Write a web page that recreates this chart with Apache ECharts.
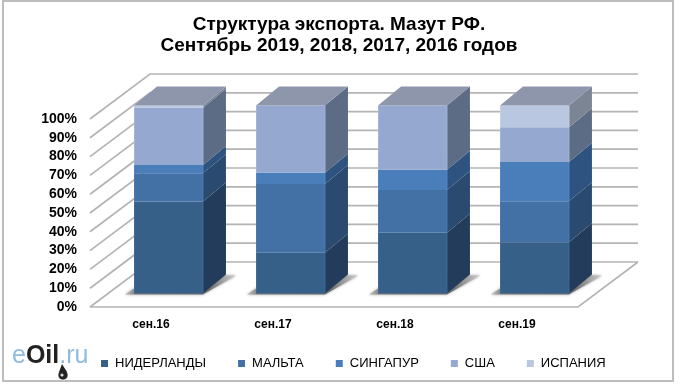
<!DOCTYPE html>
<html><head><meta charset="utf-8">
<style>html,body{margin:0;padding:0;background:#fff}#c{width:680px;height:385px}</style>
<script src="https://cdn.jsdelivr.net/npm/echarts@6/dist/echarts.min.js"></script>
</head><body><div id="c"></div>
<script>
const categories = ['сен.16','сен.17','сен.18','сен.19'];
const niderlandy = [48.9,21.7,32.3,27.2];
const malta      = [15.1,36.6,22.7,21.9];
const singapur   = [4.4,5.9,10.8,20.9];
const ssha       = [30.4,35.8,34.2,18.4];
const ispaniya   = [1.2,0,0,11.6];
const yTicks = [0,10,20,30,40,50,60,70,80,90,100];

const names = ['НИДЕРЛАНДЫ','МАЛЬТА','СИНГАПУР','США','ИСПАНИЯ'];
const values = [niderlandy,malta,singapur,ssha,ispaniya];
const frontCol = ['#376089','#4371A6','#4A7EBB','#95A9D0','#BAC7E1'];
const sideCol  = ['#243C5B','#2B4A70','#2F5380','#5D6C85','#7C8594'];
const edgeCol  = ['#3F6A98','#4A79B0','#5587C4','#A3B5D8','#C6D1E7'];
const topCol = '#8D96AB';

const W_DX=60, W_DY=-45, BAR_X=17.5, BAR_Y=-13.5, BAR_W=.565, S_DX=23, S_DY=-19;

function wallItem(params, api){
  const cs = params.coordSys, y = api.coord([0, api.value(0)])[1];
  const x0 = cs.x, x1 = cs.x+cs.width, isZero = api.value(0)===0;
  const lines = [[[x0,y],[x0+W_DX,y+W_DY],[x1+W_DX,y+W_DY]]];
  if(isZero) lines.push([[x0,y],[x1,y],[x1+W_DX,y+W_DY]]);
  return {type:'group',children:lines.map(pts=>({type:'polyline',shape:{points:pts},silent:true,
    style:{fill:null,stroke:'#b4b4b4',lineWidth:1.7}}))};
}
function shadowItem(params, api){
  const c = api.coord([api.value(0),0]), w = api.size([1,0])[0]*BAR_W;
  const l = c[0]+BAR_X-w/2, r = l+w, y = c[1]+BAR_Y+1;
  return {type:'polygon',silent:true,shape:{points:[[l-9,y],[r,y],[r+33,y-19],[l+20,y-19]]},
    style:{shadowBlur:3,shadowColor:'rgba(120,120,120,.7)',fill:new echarts.graphic.LinearGradient(0,0,1,0,[{offset:0,color:'#c4c4c4'},{offset:.1,color:'#808080'},{offset:.75,color:'#6c6c6c'},{offset:1,color:'#d0d0d0'}])}};
}
function barItem(idx){
  return function(params, api){
    const a = api.coord([api.value(0),api.value(1)]), b = api.coord([api.value(0),api.value(2)]);
    if(api.value(2)-api.value(1)<=0) return {type:'group',children:[]};
    const w = api.size([1,0])[0]*BAR_W, l = a[0]+BAR_X-w/2, r = l+w, y0 = a[1]+BAR_Y, y1 = b[1]+BAR_Y;
    const ch = [
      {type:'rect',shape:{x:l,y:y1,width:w,height:y0-y1},style:{fill:frontCol[idx],stroke:null}},
      {type:'polygon',shape:{points:[[r,y0],[r+S_DX,y0+S_DY],[r+S_DX,y1+S_DY],[r,y1]]},style:{fill:sideCol[idx]}},
      {type:'line',shape:{x1:l+.5,y1:y1,x2:l+.5,y2:y0},style:{stroke:edgeCol[idx],lineWidth:1}},
      {type:'line',shape:{x1:r,y1:y1,x2:r,y2:y0},style:{stroke:edgeCol[idx],lineWidth:1}}
    ];
    if(api.value(2)>=99.9) ch.push({type:'polygon',shape:{points:[[l,y1],[l+S_DX,y1+S_DY],[r+S_DX,y1+S_DY],[r,y1]]},style:{fill:topCol}});
    return {type:'group',silent:true,children:ch};
  };
}
const series = [
  {type:'custom',name:'wall',z:1,silent:true,coordinateSystem:'cartesian2d',data:yTicks.map(v=>[v]),encode:{y:0},renderItem:wallItem,clip:false},
  {type:'custom',name:'shadow',z:2,silent:true,data:categories.map((c,i)=>[i]),encode:{x:0},renderItem:shadowItem,clip:false}
];
const base = categories.map(()=>0);
names.forEach((n,si)=>{
  const d = categories.map((c,i)=>{const s=base[i]; base[i]+=values[si][i]; return [i,s,base[i]];});
  series.push({type:'custom',name:n,z:3+si,silent:true,itemStyle:{color:frontCol[si]},data:d,encode:{x:0,y:[1,2]},renderItem:barItem(si),clip:false});
});

const chart = echarts.init(document.getElementById('c'),null,{renderer:'canvas'});
chart.setOption({
  animation:false,backgroundColor:'#fff',
  title:{text:'Структура экспорта. Мазут РФ.\nСентябрь 2019, 2018, 2017, 2016 годов',left:334,top:9,textAlign:'center',
    textStyle:{fontFamily:'Liberation Sans',fontSize:19,fontWeight:'bold',color:'#000',lineHeight:21}},
  grid:{left:90,right:102,top:119,bottom:78,containLabel:false},
  xAxis:{type:'category',data:categories,axisLine:{show:false},axisTick:{show:false},
    axisLabel:{margin:12,color:'#000',fontFamily:'Liberation Sans',fontSize:12,fontWeight:'bold'}},
  yAxis:{type:'value',min:0,max:100,interval:10,splitLine:{show:false},axisLine:{show:false},axisTick:{show:false},
    axisLabel:{margin:13,padding:[2,0,0,0],formatter:'{value}%',color:'#000',fontFamily:'Liberation Sans',fontSize:14,fontWeight:'bold'}},
  legend:{data:names,left:101,top:357,itemWidth:7,itemHeight:7,itemGap:32,icon:'rect',selectedMode:false,padding:0,
    textStyle:{color:'#000',fontFamily:'Liberation Sans',fontSize:13,padding:[1,0,0,2]}},
  graphic:[
    {type:'rect',z:0,shape:{x:3,y:1,width:670,height:380},style:{fill:null,stroke:'#bdbdbd',lineWidth:2}},
    {type:'text',z:10,x:12,y:344,style:{text:'{a|e}{b|Oil}{a|.ru}',rich:{
      a:{fontFamily:'Liberation Sans',fontSize:25,fill:'#8FBCE0'},
      b:{fontFamily:'Liberation Sans',fontSize:25,fontWeight:'bold',fill:'#222'}}}},
    {type:'circle',z:11,shape:{cx:63,cy:375,r:5},style:{fill:'#222',stroke:'#fff',lineWidth:.6}},
    {type:'polygon',z:11,shape:{points:[[62,364],[59,372],[67,372]]},style:{fill:'#222'}},
    {type:'circle',z:12,shape:{cx:62,cy:375,r:1.6},style:{fill:'#ddd'}}
  ],
  series
});
</script></body></html>
